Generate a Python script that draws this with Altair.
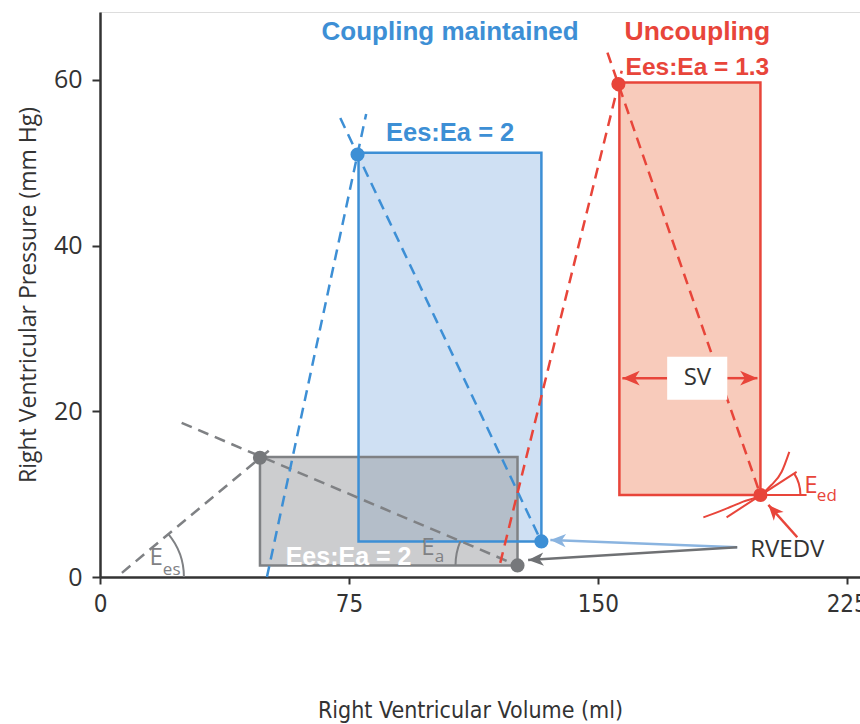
import math
import altair as alt
import pandas as pd

# ---------------- data (volume in ml, pressure in mm Hg) ----------------
loop_names = ["Baseline", "Coupling maintained", "Uncoupling"]
loop_esv = [48.2, 77.9, 156.5]      # left edge
loop_edv = [125.8, 133.0, 199.0]    # right edge
loop_edp = [1.4, 4.3, 9.9]          # bottom
loop_esp = [14.5, 51.2, 59.7]       # top

es_point_v = [48.2, 77.6, 156.2]
es_point_p = [14.4, 51.0, 59.5]
ed_point_v = [125.8, 133.0, 199.0]
ed_point_p = [1.4, 4.3, 9.9]

dash_names = ["Ees baseline", "Ea baseline", "Ees coupling", "Ea coupling",
              "Ees uncoupling", "Ea uncoupling"]
dash_v1 = [6.6, 24.6, 50.3, 72.4, 120.6, 152.9]
dash_p1 = [0.5, 18.6, 0.0, 55.4, 1.7, 63.3]
dash_v2 = [52.2, 125.8, 80.2, 132.0, 157.2, 199.0]
dash_p2 = [15.7, 1.4, 55.9, 5.1, 61.1, 9.9]

edpvr_v = [181.8, 187.8, 193.8, 199.0, 202.3, 205.4, 207.7]
edpvr_p = [7.2, 8.1, 9.1, 9.9, 11.1, 12.7, 15.1]
eed_line_v1 = [188.8, 199.0]
eed_line_p1 = [7.2, 9.9]
eed_line_v2 = [209.9, 212.9]
eed_line_p2 = [12.7, 9.9]

v0_baseline = 5.1

arrow_names = ["SV left", "SV right", "RVEDV blue", "RVEDV gray", "RVEDV red"]
arrow_v1 = [170.9, 189.0, 192.0, 192.0, 210.1]
arrow_p1 = [24.0, 24.0, 3.6, 3.6, 4.8]
arrow_v2 = [157.4, 198.1, 135.7, 129.0, 201.4]
arrow_p2 = [24.0, 24.0, 4.47, 2.05, 8.7]

sv_box_v = [170.9, 189.0]
sv_box_p = [21.4, 26.6]

bold_labels = ["Coupling maintained", "Ees:Ea = 2", "Uncoupling", "Ees:Ea = 1.3", "Ees:Ea = 2"]
bold_v = [105.5, 105.5, 180.0, 180.0, 74.9]
bold_p = [65.8, 53.6, 65.8, 61.5, 2.4]

plain_labels = ["SV", "RVEDV", "E", "es", "E", "a", "E", "ed"]
plain_v = [180.0, 207.1, 16.95, 21.6, 98.8, 102.3, 214.2, 219.0]
plain_p = [24.0, 3.3, 2.26, 0.85, 3.5, 2.4, 11.0, 9.8]

x_ticks = [0, 75, 150, 225]
y_ticks = [0, 20, 40, 60]

# ---------------- styles ----------------
BLUE = "#3d8fd5"
RED = "#e8453a"
GRAY = "#7f8184"
DARK = "#333333"
BLUE_FILL = "#cfe0f3"
RED_FILL = "#f8cbbb"
GRAY_FILL = "#9a9ca0"

W, H = 760, 565
XMAX, YMAX = 229, 68.2
sx, sy = W / XMAX, H / YMAX
NARROW = "Liberation Sans Narrow, DejaVu Sans Condensed, Roboto Condensed, Roboto"

xscale = alt.Scale(domain=[0, XMAX], nice=False, zero=False)
yscale = alt.Scale(domain=[0, YMAX], nice=False, zero=False)
xaxis = alt.Axis(values=x_ticks, title="Right Ventricular Volume (ml)", grid=False, labelFlush=False,
                 labelFont=NARROW, labelFontSize=24, labelColor=DARK, labelPadding=8,
                 tickSize=7, tickWidth=2, tickColor=DARK, domainColor=DARK, domainWidth=2.5,
                 titleFont=NARROW, titleFontSize=23, titleFontWeight="normal", titleColor=DARK,
                 titleX=370, titleY=140, titleBaseline="alphabetic")
yaxis = alt.Axis(values=y_ticks, title="Right Ventricular Pressure (mm Hg)", grid=False, labelFlush=False,
                 labelFont="Open Sans", labelFontSize=25, labelColor=DARK, labelPadding=10,
                 tickSize=8, tickWidth=2, tickColor=DARK, domainColor=DARK, domainWidth=2.5,
                 titleFont="Open Sans", titleFontSize=23, titleFontWeight=500, titleColor=DARK,
                 titleX=-72, titleY=H / 2, titleBaseline="middle", titleAngle=270)


def X(f):
    return alt.X(f"{f}:Q", scale=xscale, axis=xaxis)


def Y(f):
    return alt.Y(f"{f}:Q", scale=yscale, axis=yaxis)


loops = pd.DataFrame({"name": loop_names, "v1": loop_esv, "v2": loop_edv,
                      "p1": loop_edp, "p2": loop_esp})

fill_blue = alt.Chart(loops[loops.name == "Coupling maintained"]).mark_rect(fill=BLUE_FILL).encode(
    x=X("v1"), x2="v2", y=Y("p1"), y2="p2")
fill_gray = alt.Chart(loops[loops.name == "Baseline"]).mark_rect(fill=GRAY_FILL, fillOpacity=0.5).encode(
    x=X("v1"), x2="v2", y=Y("p1"), y2="p2")
fill_red = alt.Chart(loops[loops.name == "Uncoupling"]).mark_rect(fill=RED_FILL).encode(
    x=X("v1"), x2="v2", y=Y("p1"), y2="p2")

loops["stroke"] = [GRAY, BLUE, RED]
outline = alt.Chart(loops).mark_rect(fillOpacity=0, strokeWidth=2.5).encode(
    x=X("v1"), x2="v2", y=Y("p1"), y2="p2", stroke=alt.Stroke("stroke:N", scale=None))

dash_df = pd.DataFrame({"name": dash_names, "v1": dash_v1, "p1": dash_p1, "v2": dash_v2, "p2": dash_p2,
                        "c": [GRAY, GRAY, BLUE, BLUE, RED, RED]})
dashed = alt.Chart(dash_df).mark_rule(strokeWidth=2.5, strokeDash=[11, 7]).encode(
    x=X("v1"), y=Y("p1"), x2="v2", y2="p2", color=alt.Color("c:N", scale=None))

edpvr_df = pd.DataFrame({"v": edpvr_v, "p": edpvr_p, "o": list(range(len(edpvr_v)))})
edpvr = alt.Chart(edpvr_df).mark_line(color=RED, strokeWidth=2, interpolate="monotone").encode(
    x=X("v"), y=Y("p"), order="o:Q")
eed_df = pd.DataFrame({"v1": eed_line_v1, "p1": eed_line_p1, "v2": eed_line_v2, "p2": eed_line_p2})
eed_lines = alt.Chart(eed_df).mark_rule(color=RED, strokeWidth=2).encode(
    x=X("v1"), y=Y("p1"), x2="v2", y2="p2")


def pix_angle(dv, dp):
    return math.atan2(dp * sy, dv * sx)


ang_es = pix_angle(es_point_v[0] - v0_baseline, es_point_p[0])
ang_ea = pix_angle(ed_point_v[0] - es_point_v[0], es_point_p[0] - ed_point_p[0])
ang_ed = pix_angle(eed_line_v2[0] - eed_line_v1[0], eed_line_p2[0] - eed_line_p1[0])

arc_es = alt.Chart(pd.DataFrame({"v": [v0_baseline], "p": [0.0]})).mark_arc(
    radius=68, radius2=66, theta=math.pi / 2 - ang_es, theta2=math.pi / 2, color=GRAY).encode(
    x=X("v"), y=Y("p"))
arc_ea = alt.Chart(pd.DataFrame({"v": [ed_point_v[0]], "p": [ed_point_p[0]]})).mark_arc(
    radius=63, radius2=61, theta=3 * math.pi / 2, theta2=3 * math.pi / 2 + ang_ea, color=GRAY).encode(
    x=X("v"), y=Y("p"))
arc_ed = alt.Chart(pd.DataFrame({"v": [ed_point_v[2]], "p": [ed_point_p[2]]})).mark_arc(
    radius=41, radius2=39, theta=math.pi / 2 - ang_ed, theta2=math.pi / 2, color=RED).encode(
    x=X("v"), y=Y("p"))

arr = pd.DataFrame({"name": arrow_names, "v1": arrow_v1, "p1": arrow_p1, "v2": arrow_v2, "p2": arrow_p2,
                    "c": [RED, RED, "#8ab4e0", "#6f7174", RED],
                    "s": [300, 300, 240, 240, 240]})
arr["ang"] = [(math.degrees(math.atan2(-(b - a) * sy, (d - c) * sx)) + 360) % 360
              for a, b, c, d in zip(arr.p1, arr.p2, arr.v1, arr.v2)]
arrow_lines = alt.Chart(arr).mark_rule(strokeWidth=2.5).encode(
    x=X("v1"), y=Y("p1"), x2="v2", y2="p2", color=alt.Color("c:N", scale=None))
arrow_heads = alt.Chart(arr).mark_point(shape="M0,0L-2,-0.85L-1.45,0L-2,0.85Z", filled=True, opacity=1).encode(
    x=X("v2"), y=Y("p2"), color=alt.Color("c:N", scale=None), size=alt.Size("s:Q", scale=None),
    angle=alt.Angle("ang:Q", scale=None))

sv_box = alt.Chart(pd.DataFrame({"v1": [sv_box_v[0]], "v2": [sv_box_v[1]],
                                 "p1": [sv_box_p[0]], "p2": [sv_box_p[1]]})).mark_rect(fill="white").encode(
    x=X("v1"), x2="v2", y=Y("p1"), y2="p2")

pts = pd.DataFrame({"v": es_point_v + ed_point_v, "p": es_point_p + ed_point_p,
                    "c": ["#76787b", BLUE, RED] * 2})
dots = alt.Chart(pts).mark_circle(size=200, opacity=1).encode(
    x=X("v"), y=Y("p"), color=alt.Color("c:N", scale=None))

bold_df = pd.DataFrame({"t": bold_labels, "v": bold_v, "p": bold_p,
                        "c": [BLUE, BLUE, RED, RED, "white"], "s": [26, 25.5, 26.5, 24.5, 25]})
bold_text = alt.Chart(bold_df).mark_text(font="Liberation Sans", fontWeight="bold", baseline="middle",
                                         align="center").encode(
    x=X("v"), y=Y("p"), text="t:N", color=alt.Color("c:N", scale=None), size=alt.Size("s:Q", scale=None))

plain_df = pd.DataFrame({"t": plain_labels, "v": plain_v, "p": plain_p,
                         "c": [DARK, DARK, GRAY, GRAY, GRAY, GRAY, RED, RED],
                         "s": [24, 24, 24, 17, 24, 17, 24, 17]})
plain_text = alt.Chart(plain_df).mark_text(font="Open Sans", baseline="middle", align="center").encode(
    x=X("v"), y=Y("p"), text="t:N", color=alt.Color("c:N", scale=None), size=alt.Size("s:Q", scale=None))

chart = alt.layer(
    fill_blue, fill_gray, fill_red, outline, dashed, edpvr, eed_lines,
    arc_es, arc_ea, arc_ed, arrow_lines, arrow_heads, sv_box, dots, bold_text, plain_text
).properties(
    width=W, height=H, autosize="none",
    padding={"left": 100, "top": 12, "right": 0, "bottom": 147}
).configure_view(stroke=None).configure(background="white")

chart.save("out.html", embed_options={"renderer": "svg", "actions": False})
